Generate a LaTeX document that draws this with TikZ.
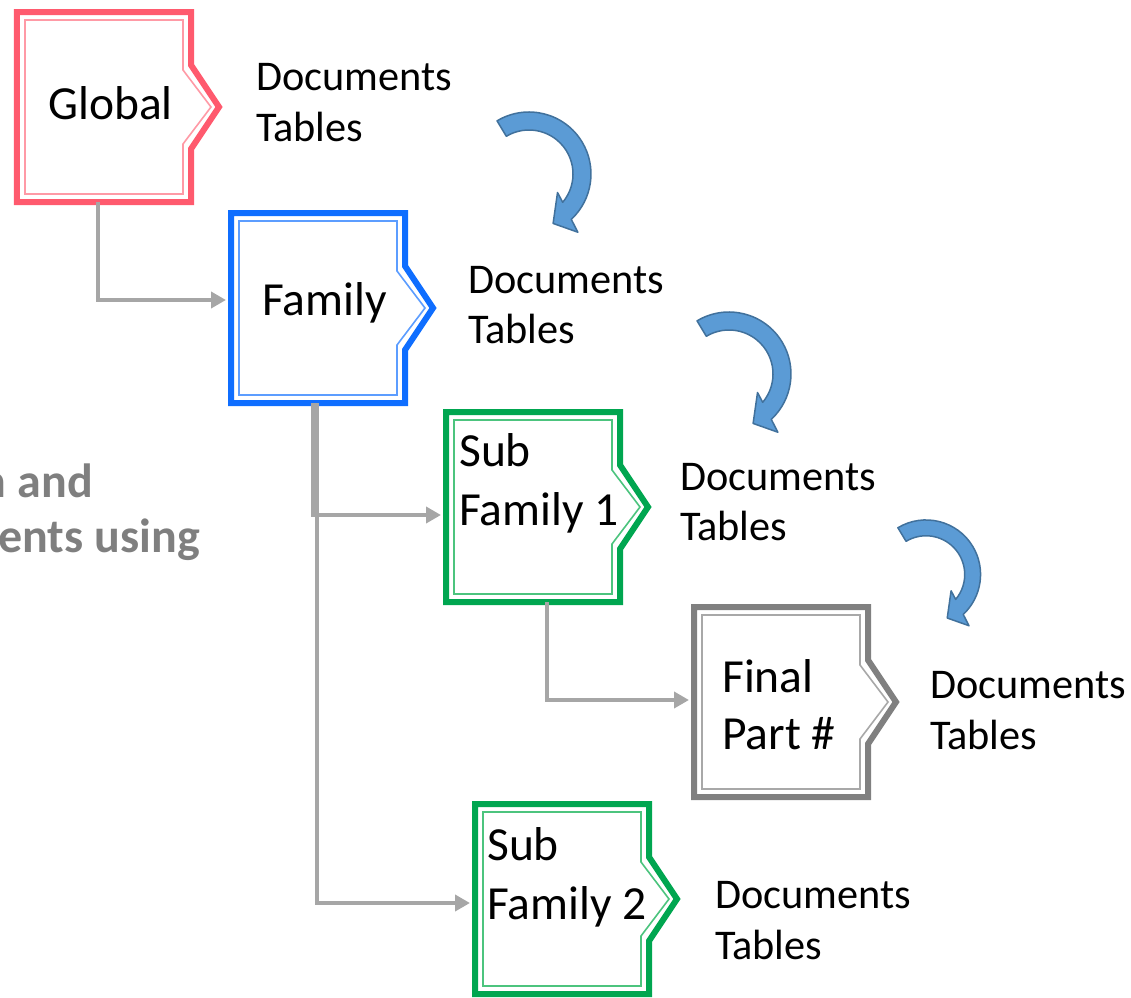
\documentclass[tikz,border=0pt]{standalone}
\usepackage{fontspec}
\setmainfont{Carlito}
\usetikzlibrary{arrows.meta,calc}

\definecolor{globalred}{HTML}{FF5A6E}
\definecolor{globalredlt}{HTML}{FF9AA6}
\definecolor{familyblue}{HTML}{0F6EFF}
\definecolor{familybluelt}{HTML}{5C9DFF}
\definecolor{subgreen}{HTML}{00A650}
\definecolor{subgreenlt}{HTML}{4CC47E}
\definecolor{partgray}{HTML}{808080}
\definecolor{partgraylt}{HTML}{A8A8A8}
\definecolor{linkgray}{HTML}{A6A6A6}
\definecolor{notegray}{HTML}{7F7F7F}
\definecolor{flowfill}{HTML}{5B9BD5}
\definecolor{flowedge}{HTML}{41719C}

\tikzset{
  levelbox/.style={minimum width=174bp, minimum height=190bp, inner sep=0pt, outer sep=0pt},
  boxlabel/.style={anchor=base west, inner sep=0pt, font=\fontsize{47.5bp}{57bp}\selectfont},
  doclabel/.style={anchor=base west, inner sep=0pt, font=\fontsize{42.3bp}{51bp}\selectfont},
  notelabel/.style={anchor=base east, inner sep=0pt, text=notegray, font=\bfseries\fontsize{48bp}{57bp}\selectfont},
  link/.style={draw=linkgray, line width=4bp, -{Triangle[length=15bp,width=16bp]}, shorten >=5bp},
  flowarrow/.style={fill=flowfill, draw=flowedge, line width=1.5bp, line join=round},
}

% double outline with a chevron on the right side, drawn around a levelbox node
\newcommand\notchoutline[3]{% #1 node, #2 outer colour, #3 inner colour
  \draw[line width=6bp, draw=#2, fill=white, line join=miter]
    (#1.north west) -- (#1.north east) -- ($(#1.east)+(0,-42)$) -- ($(#1.east)+(28,0)$)
    -- ($(#1.east)+(0,42)$) -- (#1.south east) -- (#1.south west) -- cycle;
  \draw[line width=1.6bp, draw=#3, line join=miter]
    ($(#1.north west)+(8,8)$) -- ($(#1.north east)+(-8,8)$) -- ($(#1.east)+(-8,-37)$)
    -- ($(#1.east)+(20,0)$) -- ($(#1.east)+(-8,37)$) -- ($(#1.south east)+(-8,-8)$)
    -- ($(#1.south west)+(8,-8)$) -- cycle;
}

% clockwise curved block arrow around a centre point
\newcommand\turnarrow[3]{% centre x, centre y, scale
  \begin{scope}[shift={(#1,#2)}, xscale=#3, yscale=-#3]
    \path[flowarrow] (121:62) arc[start angle=121, end angle=-47, radius=62]
      -- (-50:76) -- (-64:55) -- (-33:34) -- (-40:44)
      arc[start angle=-40, end angle=121, radius=44] -- cycle;
  \end{scope}}

\begin{document}
\begin{tikzpicture}[x=1bp, y=-1bp]
\useasboundingbox (0,0) rectangle (1131,998);

% level boxes
\node[levelbox] (global) at (104,107) {};
\node[levelbox] (family) at (318,308) {};
\node[levelbox] (sub1)   at (533,507) {};
\node[levelbox] (final)  at (781,702) {};
\node[levelbox] (sub2)   at (562,899) {};

\notchoutline{global}{globalred}{globalredlt}
\notchoutline{family}{familyblue}{familybluelt}
\notchoutline{sub1}{subgreen}{subgreenlt}
\notchoutline{final}{partgray}{partgraylt}
\notchoutline{sub2}{subgreen}{subgreenlt}

% box labels
\node[boxlabel] (globaltxt) at (48,119) {Global};
\node[boxlabel] (familytxt) at (262,315) {Family};
\node[boxlabel] (sub1a) at (459,466) {Sub};
\node[boxlabel] (sub1b) at (459,525) {Family 1};
\node[boxlabel] (finala) at (722,692) {Final};
\node[boxlabel] (finalb) at (722,749) {Part \#};
\node[boxlabel] (sub2a) at (487,860) {Sub};
\node[boxlabel] (sub2b) at (487,919) {Family 2};

% documents and tables attached to each level
\node[doclabel] (gdoc) at (256,90) {Documents};
\node[doclabel] (gtab) at (256,141) {Tables};
\node[doclabel] (fdoc) at (468,293) {Documents};
\node[doclabel] (ftab) at (468,343) {Tables};
\node[doclabel] (s1doc) at (680,490) {Documents};
\node[doclabel] (s1tab) at (680,540) {Tables};
\node[doclabel] (pdoc) at (930,698) {Documents};
\node[doclabel] (ptab) at (930,749) {Tables};
\node[doclabel] (s2doc) at (715,908) {Documents};
\node[doclabel] (s2tab) at (715,959) {Tables};

% side note
\node[notelabel] (note1) at (93,497) {n and};
\node[notelabel] (note2) at (200,552) {ents using};

% hierarchy links
\draw[link] ([xshift=-6bp]global.south) |- ([yshift=8bp]family.west);
\draw[link] ([xshift=-5bp]family.south) |- ([yshift=-8bp]sub1.west);
\draw[link] ([xshift=-1bp]family.south) |- ([yshift=-4bp]sub2.west);
\draw[link] ([xshift=14bp]sub1.south) |- ([yshift=2bp]final.west);

% inheritance arrows
\turnarrow{529}{174}{1}
\turnarrow{729}{374}{1}
\turnarrow{926}{574.5}{0.88}
\end{tikzpicture}
\end{document}
